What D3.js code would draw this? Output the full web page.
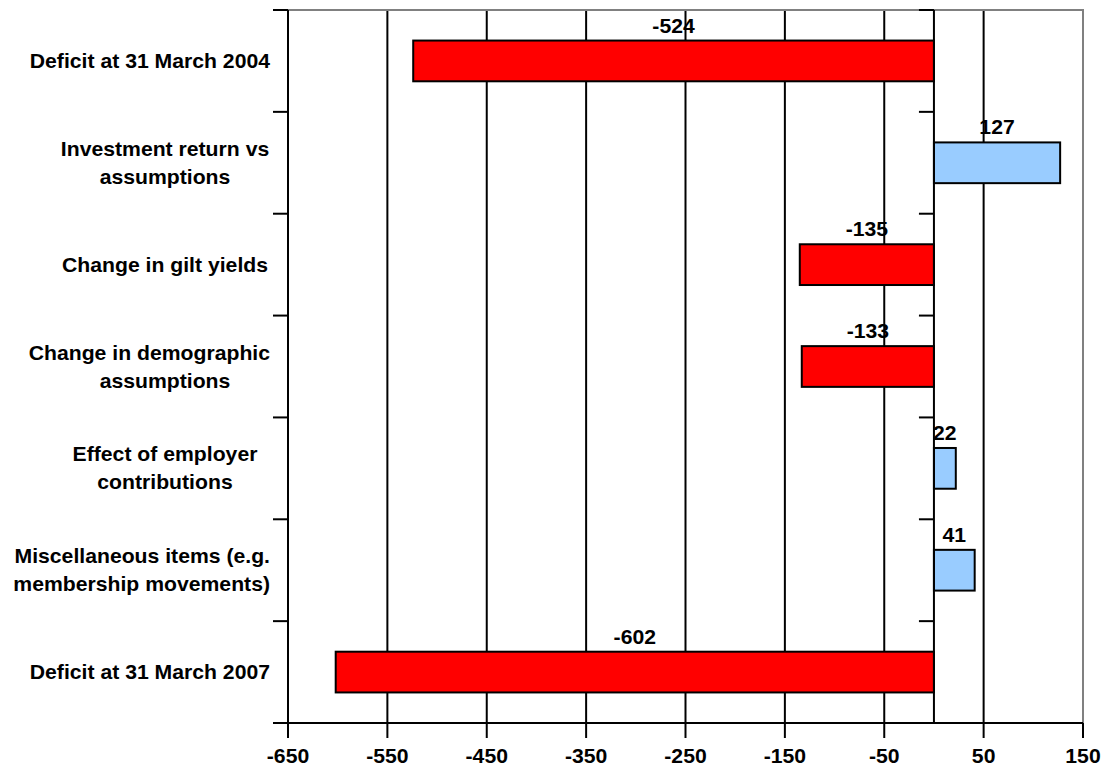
<!DOCTYPE html>
<head>
  <meta charset="utf-8">
  <script src="https://d3js.org/d3.v7.min.js"></script>
  <style>
    body {
      margin: 0;
      background: #fff;
    }
    .lbl {
      font-family: Arial, 'Liberation Sans', sans-serif;
      font-weight: bold;
      font-size: 20px;
      fill: #000;
    }
  </style>
</head>
<body>
  <div id="chart"></div>

  <script>
    var width = 1111;
    var height = 767;

    // category labels, one entry per line of text
    var categories = [
      ['Deficit at 31 March 2004'],
      ['Investment return vs', 'assumptions'],
      ['Change in gilt yields'],
      ['Change in demographic', 'assumptions'],
      ['Effect of employer', 'contributions'],
      ['Miscellaneous items (e.g.', 'membership movements)'],
      ['Deficit at 31 March 2007']
    ];
    var values = [-524, 127, -135, -133, 22, 41, -602];
    var tickValues = [-650, -550, -450, -350, -250, -150, -50, 50, 150];

    var margin = {top: 10, right: 28, bottom: 44, left: 288};
    var stretch = 1.06; // the original text is a little wider than Arial

    // put text at (px, py), slightly stretched horizontally
    function place(px, py) {
      return 'translate(' + px + ',' + py + ') scale(' + stretch + ',1)';
    }

    var svg = d3.select('#chart')
      .append('svg')
        .attr('width', width)
        .attr('height', height);

    svg.append('rect')
      .attr('width', width)
      .attr('height', height)
      .attr('fill', '#fff');

    var x = d3.scaleLinear()
      .domain([-650, 150])
      .range([margin.left, width - margin.right]);

    var y = d3.scaleBand()
      .domain(d3.range(categories.length))
      .range([margin.top, height - margin.bottom])
      .paddingInner(0.6)
      .paddingOuter(0.3);

    var plotTop = margin.top, plotBottom = height - margin.bottom;
    var step = (plotBottom - plotTop) / categories.length;

    // vertical gridlines
    svg.append('g')
      .selectAll('line')
      .data(tickValues.slice(1, -1))
      .join('line')
        .attr('x1', d => x(d)).attr('x2', d => x(d))
        .attr('y1', plotTop).attr('y2', plotBottom)
        .attr('stroke', '#000')
        .attr('stroke-width', 2);

    // plot border top + right (grey)
    svg.append('path')
      .attr('d', 'M' + x(-650) + ',' + plotTop + 'H' + x(150) + 'V' + plotBottom)
      .attr('fill', 'none')
      .attr('stroke', '#808080')
      .attr('stroke-width', 2);

    // bars
    svg.append('g')
      .selectAll('rect')
      .data(values)
      .join('rect')
        .attr('x', d => x(Math.min(0, d)))
        .attr('width', d => Math.abs(x(d) - x(0)))
        .attr('y', (d, i) => y(i))
        .attr('height', y.bandwidth())
        .attr('fill', d => d < 0 ? '#ff0000' : '#99ccff')
        .attr('stroke', '#000')
        .attr('stroke-width', 2);

    // value labels
    svg.append('g')
      .selectAll('text')
      .data(values)
      .join('text')
        .attr('transform', (d, i) => place(x(d / 2), y(i) - 8))
        .attr('text-anchor', 'middle')
        .attr('class', 'lbl')
        .text(d => d);

    // category boundary ticks, used for left axis and zero line
    var bounds = d3.range(categories.length + 1).map(i => plotTop + i * step);

    [-650, 0].forEach(function(v) {
      var ax = x(v);
      svg.append('line')
        .attr('x1', ax).attr('x2', ax)
        .attr('y1', plotTop).attr('y2', plotBottom)
        .attr('stroke', '#000')
        .attr('stroke-width', 2);
      svg.append('g')
        .selectAll('line')
        .data(v === 0 ? bounds.slice(0, -1) : bounds)
        .join('line')
          .attr('x1', ax - 15).attr('x2', ax)
          .attr('y1', d => d).attr('y2', d => d)
          .attr('stroke', '#000')
          .attr('stroke-width', 2);
    });

    // bottom axis
    svg.append('line')
      .attr('x1', x(-650) - 15).attr('x2', x(150))
      .attr('y1', plotBottom).attr('y2', plotBottom)
      .attr('stroke', '#000')
      .attr('stroke-width', 2);

    var xt = svg.append('g')
      .selectAll('g')
      .data(tickValues)
      .join('g')
        .attr('transform', d => 'translate(' + x(d) + ',' + plotBottom + ')');
    xt.append('line')
      .attr('y2', 15)
      .attr('stroke', '#000')
      .attr('stroke-width', 2);
    xt.append('text')
      .attr('transform', place(0, 40))
      .attr('text-anchor', 'middle')
      .attr('class', 'lbl')
      .text(d => d);

    // category labels: lines centred, pushed left if they pass the right edge
    var labelCx = 165, labelRight = 270, lineH = 28;
    categories.forEach(function(lines, i) {
      var cy = y(i) + y.bandwidth() / 2;
      lines.forEach(function(line, j) {
        var ly = cy + (j - (lines.length - 1) / 2) * lineH + 7;
        var t = svg.append('text')
          .attr('class', 'lbl')
          .text(line);
        var w = t.node().getComputedTextLength() * stretch;
        if (labelCx + w / 2 > labelRight) {
          t.attr('text-anchor', 'end').attr('transform', place(labelRight, ly));
        } else {
          t.attr('text-anchor', 'middle').attr('transform', place(labelCx, ly));
        }
      });
    });
  </script>
</body>
